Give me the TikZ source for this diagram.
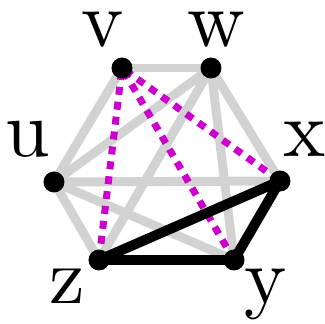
\documentclass[tikz,border=0pt]{standalone}
\font\lblfont=cmr10 at 80pt
\begin{document}
\begin{tikzpicture}[x=1pt,y=-1pt,
  vert/.style={circle,fill=black,inner sep=0pt,minimum size=21pt},
  lbl/.style={inner sep=0pt,anchor=base,font=\lblfont},
  grayedge/.style={line width=9pt,color=gray!35},
  magedge/.style={line width=7pt,color=magentaC,dash pattern=on 8pt off 7pt,shorten <=4pt,shorten >=4pt},
  blackedge/.style={line width=10pt,color=black,line cap=round}]
\definecolor{magentaC}{RGB}{204,0,204}
\useasboundingbox (0,0) rectangle (325,324);
\coordinate (v) at (122,68);
\coordinate (w) at (211,68);
\coordinate (u) at (54,182);
\coordinate (x) at (280,181);
\coordinate (z) at (99,260);
\coordinate (y) at (234,260);
% gray edges
\foreach \a/\b in {v/w,v/u,w/u,w/z,w/y,w/x,u/x,u/z,u/y}
  \draw[grayedge] (\a) -- (\b);
% magenta dotted
\foreach \b in {z,y,x}
  \draw[magedge] (v) -- (\b);
% black edges
\draw[blackedge] (z) -- (x);
\draw[blackedge] (z) -- (y);
\draw[blackedge] (x) -- (y);
% vertices
\foreach \n in {v,w,u,x,z,y}
  \node[vert] (n\n) at (\n) {};
% labels
\node[lbl] (lv) at (103,47) {v};
\node[lbl] (lw) at (216,47) {w};
\node[lbl] (lu) at (28,157) {u};
\node[lbl] (lx) at (305,157) {x};
\node[lbl] (lz) at (67,303) {z};
\node[lbl] (ly) at (266,303) {y};
\end{tikzpicture}
\end{document}
